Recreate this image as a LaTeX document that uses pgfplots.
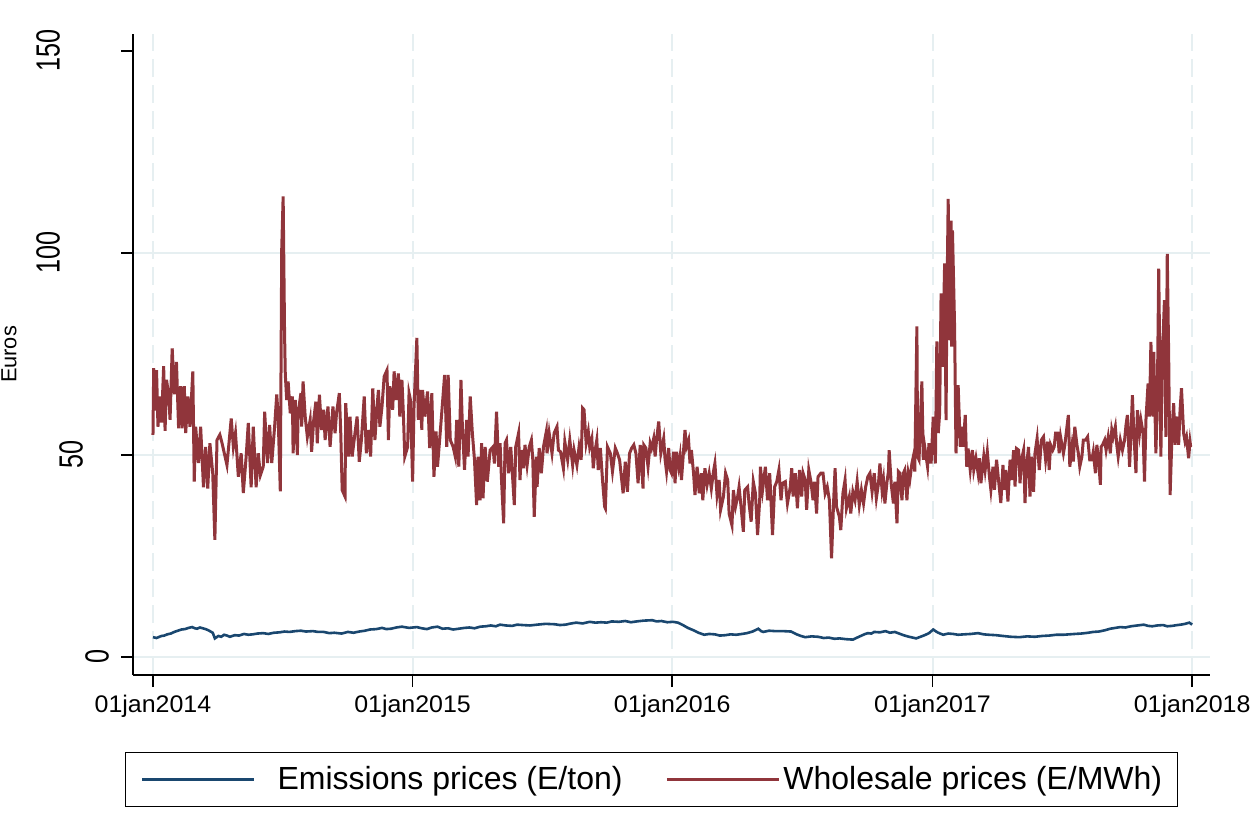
\documentclass[border=0pt]{standalone}
\usepackage{graphicx}
\usepackage{pgfplots}
\pgfplotsset{compat=1.18}
\usepackage{fontspec}
\setmainfont{Liberation Sans}
\definecolor{stblue}{RGB}{26,71,111}
\definecolor{stred}{RGB}{144,53,59}
\definecolor{gridc}{RGB}{230,239,241}
\newcommand{\yl}[2]{\raisebox{#1}{\scalebox{1}[1.33]{#2}}}
\newcommand{\xl}[1]{\scalebox{1.04}[1]{#1}}
\begin{document}
\begin{tikzpicture}
\begin{axis}[
  at={(0pt,0pt)}, anchor=south west,
  scale only axis, width=538.5pt, height=320.5pt,
  xmin=-28.1, xmax=1486.1, ymin=-4.46, ymax=154.2,
  axis x line*=bottom, axis y line*=left,
  axis line style={line width=0.75pt, -},
  tick align=outside, major tick length=6pt,
  every tick/.style={line width=0.75pt, black},
  xtick={0,365,730,1096,1461},
  xticklabels={\xl{01jan2014},\xl{01jan2015},\xl{01jan2016},\xl{01jan2017},\xl{01jan2018}},
  xticklabel style={font=\fontsize{12}{14}\selectfont, inner sep=0pt, anchor=north, yshift=-4pt},
  ytick={0,50,100},
  yticklabels={\yl{6pt}{0},\yl{19pt}{50},\yl{30.5pt}{100}},
  extra y ticks={150},
  extra y tick labels={\yl{30.5pt}{150}},
  extra y tick style={grid=none},
  yticklabel style={font=\fontsize{12.6}{15}\selectfont, rotate=90, anchor=south, inner sep=0pt},
  xmajorgrids, ymajorgrids,
  major x grid style={gridc, line width=1pt, dash pattern=on 9pt off 4pt},
  major y grid style={gridc, line width=1pt},
  ylabel={Euros},
  every axis y label/.style={at={(axis description cs:-0.1077,0.5)}, rotate=90, anchor=south, inner sep=0pt, font=\fontsize{10.9}{13}\selectfont},
  legend columns=2,
  legend style={at={(axis description cs:0.4814,-0.1201)}, anchor=north, draw=black, line width=0.6pt, fill=white,
    inner xsep=7.5pt, inner ysep=5pt, font=\fontsize{16}{19}\selectfont, column sep=0pt,
    nodes={inner xsep=0pt, inner ysep=2pt}},
  legend image code/.code={\draw[#1, line width=1.4pt] (0pt,0pt) -- (56pt,0pt);},
]
\addplot[stblue, line width=1.3pt] coordinates {
(0,4.9) (5,4.7) (9,5.0) (12,5.2) (16,5.3) (20,5.6) (25,5.8) (30,6.2) (35,6.5) (40,6.8) (45,6.9) (50,7.2) (55,7.4) (59,7.1) (62,7.0) (66,7.3) (70,7.1) (74,6.9) (78,6.6) (84,6.0) (87,4.6) (92,5.2) (96,5.0) (100,5.5) (104,5.3) (108,5.0) (115,5.4) (121,5.3) (128,5.7) (134,5.5) (140,5.6) (147,5.8) (155,5.9) (162,5.7) (170,6.0) (178,6.1) (185,6.3) (192,6.2) (200,6.4) (208,6.5) (215,6.3) (225,6.4) (232,6.2) (240,6.2) (248,5.9) (255,6.0) (265,5.8) (274,6.2) (282,6.0) (290,6.3) (298,6.5) (305,6.8) (314,6.9) (322,7.2) (328,6.9) (335,7.0) (342,7.3) (350,7.5) (360,7.2) (371,7.4) (378,7.1) (385,6.9) (392,7.3) (400,7.5) (407,7.0) (415,7.1) (422,6.8) (430,7.0) (438,7.2) (445,7.3) (452,7.1) (460,7.5) (468,7.6) (475,7.8) (482,7.6) (488,8.0) (496,7.8) (505,7.7) (512,8.0) (520,7.9) (530,7.8) (540,8.0) (552,8.2) (565,8.1) (572,7.9) (580,8.0) (588,8.3) (595,8.5) (604,8.3) (614,8.7) (622,8.5) (630,8.6) (638,8.5) (645,8.8) (655,8.7) (664,8.9) (672,8.6) (680,8.8) (690,9.0) (702,9.1) (708,8.8) (715,8.9) (723,8.6) (731,8.7) (738,8.5) (745,7.9) (752,7.2) (760,6.6) (767,6.0) (775,5.5) (782,5.7) (790,5.6) (797,5.3) (805,5.4) (812,5.6) (820,5.5) (828,5.7) (835,5.9) (843,6.3) (851,7.0) (855,6.4) (858,6.2) (866,6.5) (875,6.4) (886,6.4) (897,6.3) (905,5.6) (911,5.2) (917,4.9) (926,5.1) (935,5.0) (943,4.7) (950,4.8) (958,4.5) (965,4.6) (975,4.4) (984,4.3) (990,4.8) (995,5.2) (1000,5.6) (1005,5.9) (1010,5.8) (1014,6.2) (1022,6.1) (1030,6.4) (1036,6.0) (1043,6.2) (1049,5.8) (1055,5.4) (1063,5.0) (1073,4.6) (1079,5.0) (1085,5.4) (1091,5.9) (1097,6.8) (1101,6.3) (1104,6.0) (1111,5.5) (1118,5.8) (1125,5.7) (1132,5.5) (1140,5.6) (1150,5.7) (1160,5.9) (1168,5.6) (1175,5.5) (1185,5.4) (1195,5.2) (1206,5.0) (1218,4.9) (1229,5.1) (1240,5.0) (1250,5.2) (1260,5.3) (1270,5.5) (1280,5.5) (1288,5.6) (1296,5.7) (1305,5.8) (1315,6.0) (1322,6.2) (1330,6.3) (1338,6.6) (1346,7.0) (1353,7.2) (1360,7.4) (1367,7.3) (1375,7.6) (1384,7.8) (1393,8.0) (1399,7.7) (1405,7.6) (1412,7.8) (1420,7.9) (1426,7.6) (1433,7.7) (1440,7.9) (1445,8.0) (1451,8.2) (1457,8.5) (1461,8.0)
};
\addlegendentry{\hspace{11pt}Emissions prices (E/ton)\hspace{21.5pt}\mbox{}}
\addplot[stred, line width=1.5pt] coordinates {
(0,55) (1,71.5) (3,61) (5,71) (7,57) (10,64.5) (12,58) (15,72) (17,56) (19,68.6) (22,65) (24,58.7) (27,76.4) (30,65) (33,73) (36,56.6) (39,67) (41,56.6) (44,67) (46,55.4) (49,64.5) (52,57) (56,70.7) (58,43.4) (60,57) (64,48) (67,57) (71,42) (74,52) (77,41.7) (80,52.9) (84,45.5) (87,29) (90,53.7) (94,55) (97,53) (104,47.5) (110,59) (113,52) (116,55.4) (120,44.6) (124,50.4) (127,40.6) (131,49.6) (134,57.9) (138,42) (141,57) (145,42) (148,50.4) (151,45) (155,47.1) (157,60.7) (161,48) (164,57.4) (167,48) (171,57) (174,65) (176,59.5) (179,41) (181,101) (183,114) (185,80) (186,70)
(188,63.6) (190,68.2) (193,60.3) (196,64.5) (197,50.4) (200,63.6) (203,50) (204,60.3) (208,65.3) (209,57) (211,68.2) (214,59.5) (217,54.5) (221,58.7) (223,50.8) (226,58.7) (229,63.2) (231,52.9) (234,64.9) (237,56.2) (240,61.2) (242,53.7) (246,62) (249,52) (253,62) (256,55.4) (258,60.3) (262,65.3) (264,55.4) (266,41.3) (270,39.7) (271,62.8) (275,49.6) (277,59.5) (280,49.6) (284,55.4) (287,59.5) (290,48.3) (293,53.7) (297,64.5) (300,50.4) (303,56.2) (306,49.6) (309,66.5) (312,53.7) (315,62) (317,66.1) (319,57) (322,62) (325,69.4) (329,71) (331,53.7) (333,67) (337,61.2) (339,70.7) (342,63.6) (345,70.2) (347,59.5) (350,68.6) (352,60.3) (354,49.6) (358,52) (360,65.3) (362,63.6) (365,43.4) (367,62) (371,79) (373,58.7)
(375,66.1) (378,56.2) (379,66.1) (382,59.5) (386,65.7) (389,51.7) (392,65.3) (395,44.6) (398,55.8) (400,47.1) (403,53.7) (407,62.8) (410,69.8) (413,52) (415,69.8) (418,53.7) (422,52) (425,49.6) (427,58.7) (430,47.1) (433,68.6) (435,57) (438,46.3) (441,58.7) (443,49.6) (446,64.5) (449,55.4) (452,48.8) (455,37.6) (457,49.6) (460,38.8) (462,52.9) (464,39.3) (467,52) (470,43.4) (474,51.2) (478,52) (480,47.9) (483,60.7) (486,47.1) (488,52.9) (490,43.8) (493,33.1) (495,52.9) (497,53.7) (500,45.5) (503,52) (508,37.6) (510,52) (514,55.4) (516,43.8) (518,51.2) (521,46.7) (523,52.5) (526,47.5) (529,52) (532,53.7) (534,48.8) (536,34.7) (539,49.6) (540,42.1) (543,51.7)
(546,45.5) (549,52) (553,55.8) (554,50.4) (557,55.4) (561,50.4) (564,55.4) (568,57) (570,51.2) (573,50.8) (577,46.7) (579,53.3) (583,48.8) (586,53.7) (590,47.5) (592,51.2) (596,47.5) (599,52) (602,48.8) (604,61.6) (606,61.2) (609,52.9) (612,55.8) (614,52) (617,54.1) (619,46.7) (621,50.4) (624,53.7) (626,46.3) (629,51.7) (632,43.8) (635,37.2) (636,36.8) (639,52) (643,50.4) (646,45.9) (650,51.7) (653,50.4) (656,48.8) (659,43.8) (661,40.5) (664,48.3) (667,40.9) (670,50.4) (673,51.7) (676,52.5) (679,50.4) (682,43) (685,52.5) (689,41.7) (690,52.5) (693,51.7) (696,47.1) (699,52.9) (701,51.7) (704,54.1) (706,49.6) (708,53.7) (711,58.3) (714,50.4) (718,54.1) (720,48.8) (722,45.9) (725,51.7) (727,46.3)
(729,45.5) (732,50.8) (734,43) (736,50.8) (739,47.1) (741,49.6) (743,43.8) (746,51.2) (748,56.2) (750,52) (753,53.7) (755,47.9) (757,51.2) (760,45.5) (762,40.1) (765,47.1) (768,40.5) (771,45.5) (773,38.8) (776,46.7) (779,42.6) (782,45.5) (785,41.7) (788,45.9) (790,47.9) (793,40.1) (796,43.8) (798,36.4) (802,39.7) (805,45.5) (808,43.8) (810,35.5) (814,32.6) (816,41.3) (819,37.2) (822,39.7) (824,42.1) (827,36.8) (830,31) (832,41.3) (836,42.1) (838,38) (841,33.5) (844,43.4) (847,40.5) (850,30.2) (853,38.8) (854,47.1) (857,41.3) (861,47.1) (864,38.8) (867,45.5) (868,42.1) (871,30.2) (874,42.1) (877,43.4) (880,46.3) (883,38.8) (885,43) (889,43.4) (892,38) (896,42.1) (898,46.7) (900,39.7) (903,45.5) (906,36.8) (909,46.3)
(912,39.7) (914,45.5) (917,43.8) (919,36.4) (922,46.3) (925,43.4) (928,38.8) (930,43.4) (933,35.5) (935,44.6) (939,45.5) (942,45.5) (945,40.5) (948,42.1) (951,38.8) (954,24.4) (957,38.8) (959,46.7) (961,37.2) (965,34.7) (967,31.4) (970,40.5) (973,43.8) (975,36.8) (979,39.7) (981,35.5) (984,40.9) (987,38.8) (990,43.4) (993,37.6) (996,41.3) (999,38) (1002,42.1) (1005,44.6) (1008,45.5) (1011,40.9) (1014,45.5) (1017,39.3) (1020,43) (1022,47.9) (1025,41.3) (1027,43.8) (1029,38) (1032,43.4) (1034,45.9) (1035,51.2) (1038,42.6) (1041,38) (1043,43.4) (1046,33.1) (1048,45.9) (1050,45.5) (1053,38.8) (1055,45.5) (1057,46.3) (1060,38.8) (1062,45.5) (1064,43.8) (1067,47.9) (1069,49.6) (1071,45.9) (1074,81.8) (1075,49.6) (1077,48.8) (1081,68.2) (1083,48.8) (1085,52) (1089,47.1) (1091,52.9) (1094,47.9) (1097,59.5) (1100,47.9) (1102,78.1) (1104,55.4)
(1106,60.3) (1108,90) (1110,71.8) (1113,97.4) (1115,58.6) (1116,84.2) (1118,113.4) (1120,78.4) (1122,108) (1123,76.8) (1124,105.6) (1127,81.7) (1129,50.4) (1132,67.3) (1135,52) (1137,57) (1139,52) (1142,59.9) (1144,47.1) (1146,51.6) (1149,46.3) (1152,51.2) (1154,46.3) (1157,49.2) (1160,45.5) (1162,49.2) (1164,43) (1168,49.6) (1170,46.3) (1173,50.8) (1176,44.6) (1178,41.4) (1181,47.1) (1183,41.4) (1186,48.8) (1189,43.4) (1192,38.1) (1195,47.5) (1197,41.4) (1199,46.3) (1202,38.5) (1205,48.8) (1207,43.8) (1210,51.2) (1212,42.2) (1214,51.6) (1217,51.2) (1219,43) (1221,48.8) (1224,51.2) (1226,38.1) (1228,47.1) (1231,52) (1233,39.7) (1235,49.6) (1238,40.9) (1240,50.4) (1243,54.1) (1246,46.3) (1249,53.7) (1252,54.5) (1255,48.8) (1258,53.3) (1260,46.3) (1262,52.5) (1265,51.2) (1267,52) (1269,55.4) (1272,55.4) (1274,50.4) (1276,54.5) (1280,50.4) (1282,52.5) (1285,57) (1287,59.9) (1289,47.1) (1292,52) (1294,48.4) (1296,57) (1299,52.5) (1301,50.4) (1303,47.1) (1306,49.6) (1308,53.7) (1311,53.7) (1314,54.5) (1317,48.8) (1320,48.8) (1322,50.8) (1325,45.5) (1327,52.5) (1329,49.6) (1332,42.6) (1333,52) (1335,52.5) (1338,53.7) (1340,51.2) (1343,54.5) (1346,50.4) (1348,56.2) (1350,54.5) (1353,57) (1355,52.5) (1357,49.6) (1360,53.7) (1363,51.2) (1366,53.7) (1368,57.4) (1370,59.9) (1373,47.1) (1375,55.4) (1377,64.8) (1379,55.4) (1382,45.5) (1384,61.1) (1387,55.4) (1389,58.6) (1392,55.4) (1394,43.4) (1396,58.6) (1399,67.7) (1401,59.5) (1403,78) (1406,59.5) (1407,75.5) (1410,50.4) (1412,63.6) (1414,96.1) (1417,49.6) (1419,73.5) (1422,88.3) (1424,54.5) (1426,99.8) (1428,74.3) (1430,40.1) (1433,57) (1435,62.8) (1437,52.5) (1440,59.5) (1442,52.5) (1444,61.1) (1446,66.5) (1449,55.4) (1451,53.3) (1453,54.5) (1456,49.2) (1458,53.3) (1459,52)
};
\addlegendentry{\hspace{1.5pt}Wholesale prices (E/MWh)}
\end{axis}
\pgfresetboundingbox
\path[use as bounding box] (-66.5pt,-71.5pt) rectangle (559.5pt,337.5pt);
\end{tikzpicture}
\end{document}
